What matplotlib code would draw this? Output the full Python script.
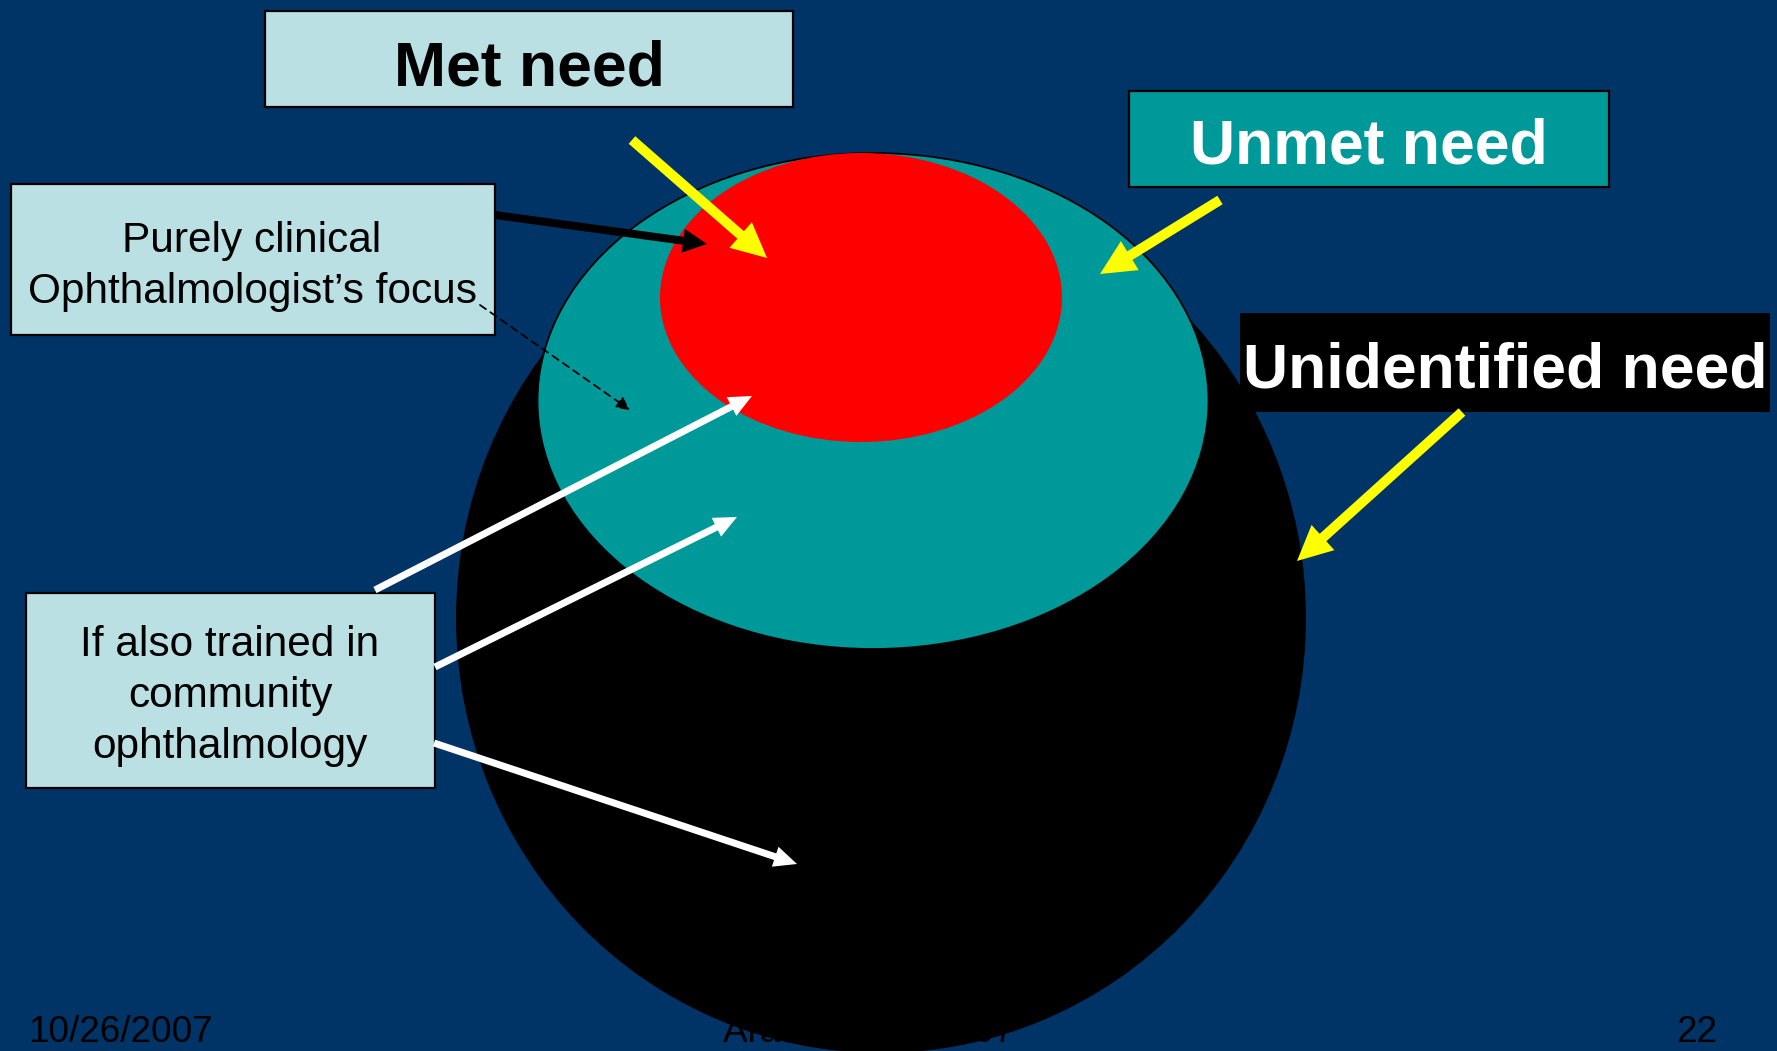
import matplotlib.pyplot as plt
from matplotlib.patches import Ellipse, Rectangle, FancyArrow

plt.rcParams['font.family'] = ['Liberation Sans', 'DejaVu Sans']

# labels of the slide
need_labels = ['Met need', 'Unmet need', 'Unidentified need']
focus_lines = ['Purely clinical', 'Ophthalmologist\u2019s focus']
community_lines = ['If also trained in', 'community', 'ophthalmology']
footer = ['10/26/2007', 'Aravind Eye 2007', '22']

# colours
navy = '#003366'
teal = '#009999'
light = '#BBE0E3'
red = '#FF0000'
yellow = '#FFFF00'

W, H = 1777, 1051
fig = plt.figure(figsize=(W / 100, H / 100), dpi=100, facecolor=navy)
ax = fig.add_axes([0, 0, 1, 1])
ax.set_xlim(0, W)
ax.set_ylim(H, 0)
ax.axis('off')

# footer (black text, partly hidden by the big circle)
ax.text(28, 1042, footer[0], fontsize=26.6, color='black', ha='left', va='baseline')
ax.text(869, 1042, footer[1], fontsize=26.6, color='black', ha='center', va='baseline')
ax.text(1717, 1042, footer[2], fontsize=26.6, color='black', ha='right', va='baseline')

# nested need areas
ax.add_patch(Ellipse((881, 618), 850, 870, facecolor='black', edgecolor='none', zorder=2))
ax.add_patch(Ellipse((873, 401), 671, 496, facecolor=teal, edgecolor='black', lw=1.3, zorder=3))
ax.add_patch(Ellipse((861, 297.5), 402, 289, facecolor=red, edgecolor='none', zorder=4))


def box(x0, y0, x1, y1, fc):
    ax.add_patch(Rectangle((x0, y0), x1 - x0, y1 - y0, facecolor=fc,
                           edgecolor='black', lw=1.6, zorder=6))


def arrow(x0, y0, x1, y1, color, w, hw, hl):
    ax.add_patch(FancyArrow(x0, y0, x1 - x0, y1 - y0, width=w, head_width=hw,
                            head_length=hl, length_includes_head=True,
                            color=color, lw=0, zorder=7))


# label boxes
box(265, 11, 793, 107, light)
ax.text(529, 85, need_labels[0], fontsize=45, fontweight='bold', color='black',
        ha='center', va='baseline', zorder=8)

box(1129, 91, 1609, 187, teal)
ax.text(1369, 164, need_labels[1], fontsize=45, fontweight='bold', color='white',
        ha='center', va='baseline', zorder=8)

ax.add_patch(Rectangle((1240, 313), 530, 99, facecolor='black', edgecolor='none', zorder=6))
ax.text(1505, 388, need_labels[2], fontsize=45, fontweight='bold', color='white',
        ha='center', va='baseline', zorder=8)

box(11, 184, 495, 335, light)
for i, line in enumerate(focus_lines):
    ax.text(252, 252 + i * 51, line, fontsize=30.5, color='black',
            ha='center', va='baseline', zorder=8)

box(26, 593, 435, 788, light)
for i, line in enumerate(community_lines):
    ax.text(230, 656 + i * 51, line, fontsize=30.5, color='black',
            ha='center', va='baseline', zorder=8)

# yellow pointers
arrow(632, 140, 767, 258, yellow, 10, 34, 35)
arrow(1220, 200, 1100, 274, yellow, 10, 34, 35)
arrow(1462, 412, 1297, 561, yellow, 10, 34, 35)

# black pointer from clinical box
arrow(495, 215, 707, 244, 'black', 8, 24, 24)

# dashed pointer
ax.annotate('', xy=(630, 410), xytext=(480, 305),
            arrowprops=dict(arrowstyle='-|>,head_length=0.8,head_width=0.4',
                            color='black', lw=1.3, ls=(0, (4, 3)),
                            shrinkA=0, shrinkB=0), zorder=7)

# white pointers from community box
arrow(375, 590, 752, 396, 'white', 7, 21, 23)
arrow(435, 667, 737, 517, 'white', 7, 21, 23)
arrow(434, 743, 797, 864, 'white', 7, 21, 23)

fig.savefig('out.png', dpi=100, facecolor=navy)
